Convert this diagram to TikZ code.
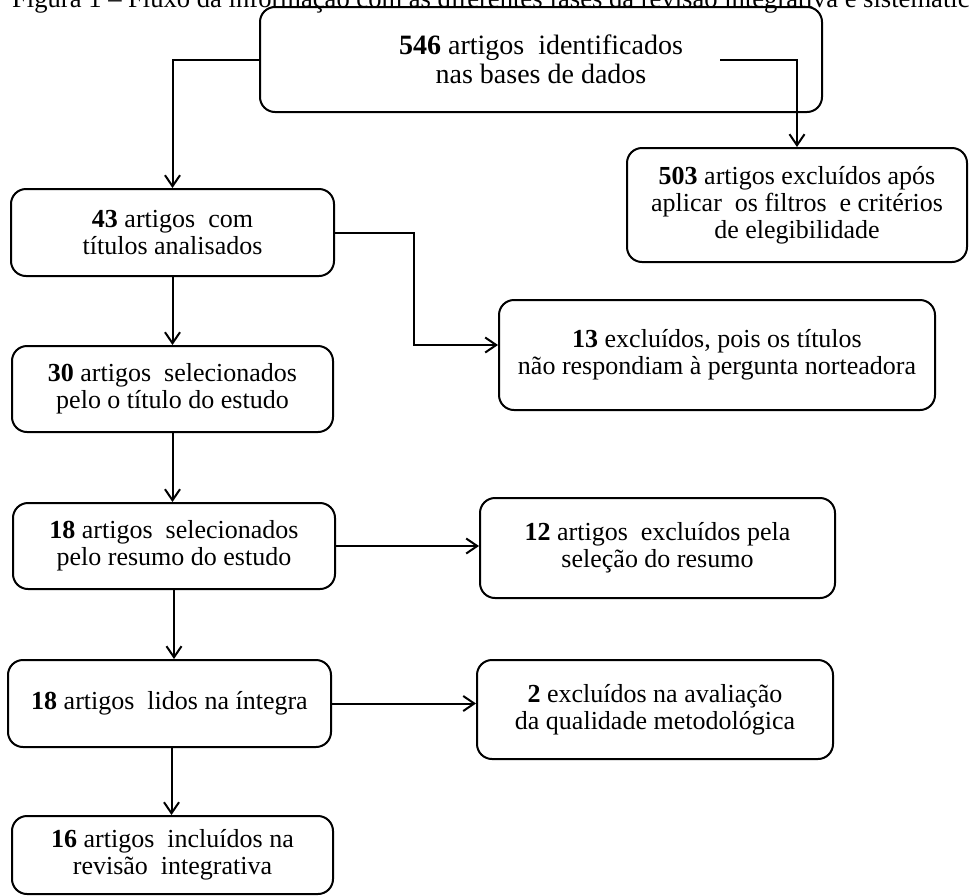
\documentclass[tikz,border=0pt]{standalone}
\usepackage{fontspec}
\setmainfont{Liberation Serif}
\usetikzlibrary{arrows.meta}
\begin{document}
\begin{tikzpicture}[x=1pt,y=-1pt,
  box/.style={draw, rounded corners=15pt, line width=2pt, align=center, inner sep=0pt,
    font=\fontsize{26}{27}\selectfont},
  arr/.style={line width=2pt, -{Straight Barb[length=11pt,width=15pt]}}]
\clip (0,0) rectangle (969,895);
\fill[white] (0,0) rectangle (969,895);
\node[anchor=base west, inner sep=0pt, font=\fontsize{26.6}{27}\selectfont] (title) at (12,7)
  {Figura 1 – Fluxo da informação com as diferentes fases da revisão integrativa e sistemática};
\node[box, minimum width=562pt, minimum height=105pt, font=\fontsize{28}{29}\selectfont] (A) at (541,59.5)
  {\textbf{546} artigos\ \ identificados\\nas bases de dados};
\node[box, minimum width=323pt, minimum height=87pt] (B) at (172.5,232.5)
  {\textbf{43} artigos\ \ com\\títulos analisados};
\node[box, minimum width=340pt, minimum height=114pt] (C) at (797,205)
  {\textbf{503} artigos excluídos após\\aplicar\ \ os filtros\ \ e critérios\\de elegibilidade};
\node[box, minimum width=436pt, minimum height=110pt] (D) at (717,355)
  {\textbf{13} excluídos, pois os títulos\\não respondiam à pergunta norteadora};
\node[box, minimum width=321pt, minimum height=86pt] (E) at (172.5,389)
  {\textbf{30} artigos\ \ selecionados\\pelo o título do estudo};
\node[box, minimum width=322pt, minimum height=86pt] (F) at (174,546)
  {\textbf{18} artigos\ \ selecionados\\pelo resumo do estudo};
\node[box, minimum width=355pt, minimum height=100pt] (G) at (657.5,548)
  {\textbf{12} artigos\ \ excluídos pela\\seleção do resumo};
\node[box, minimum width=323pt, minimum height=87pt] (H) at (169.5,703.5)
  {\textbf{18} artigos\ \ lidos na íntegra};
\node[box, minimum width=356pt, minimum height=99pt] (I) at (655,709.5)
  {\textbf{2} excluídos na avaliação\\da qualidade metodológica};
\node[box, minimum width=321pt, minimum height=78pt] (J) at (172.5,855)
  {\textbf{16} artigos\ \ incluídos na\\revisão\ \ integrativa};
\coordinate (a2) at (720,60);
\draw[arr] (A.west) -| (B.north);
\draw[arr] (a2) -| (C.north);
\draw[arr] (B.east) -- ++(79,0) |- ([yshift=10pt]D.west);
\draw[arr] (B.south) -- (B.south |- E.north);
\draw[arr] (E.south) -- (E.south |- F.north);
\draw[arr] (F.east) -- (F.east -| G.west);
\draw[arr] (F.south) -- (F.south |- H.north);
\draw[arr] (H.east) -- (H.east -| I.west);
\draw[arr] ([xshift=2pt]H.south) -- ([xshift=2pt]H.south |- J.north);
\end{tikzpicture}
\end{document}
